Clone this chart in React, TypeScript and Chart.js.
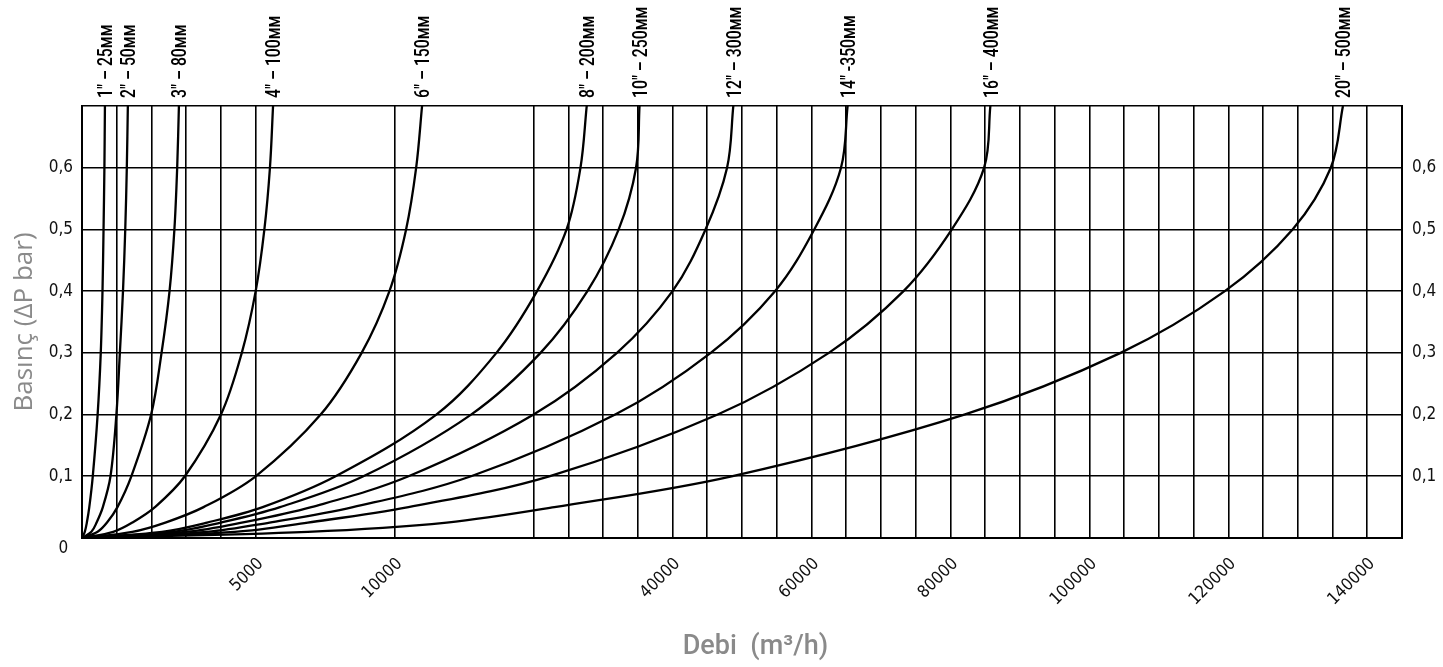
import React, { useEffect, useRef } from 'react';
import { Chart, LinearScale, registerables } from 'chart.js';

Chart.register(...registerables);

// ---- Data: pressure-drop levels (bar) and the flow (m³/h) of each pipe at those levels ----
const PIPE_LABELS = [
  '1" – 25мм', '2" – 50мм', '3" – 80мм', '4" – 100мм', '6" – 150мм',
  '8" – 200мм', '10" – 250мм', '12" – 300мм', '14" -350мм', '16" – 400мм', '20" – 500мм',
];

const DP_LEVELS = [0, 0.01, 0.025, 0.05, 0.1, 0.2, 0.3, 0.4, 0.5, 0.6, 0.7];

const FLOW_1 = [0, 80, 140, 210, 310, 450, 540, 590, 620, 645, 660];
const FLOW_2 = [0, 270, 420, 600, 820, 990, 1090, 1180, 1245, 1290, 1320];
const FLOW_3 = [0, 450, 720, 1020, 1420, 1990, 2290, 2520, 2660, 2740, 2790];
const FLOW_4 = [0, 900, 1450, 2100, 2960, 4000, 4600, 5000, 5313, 5513, 5625];
const FLOW_6 = [0, 1450, 2400, 3500, 5000, 7338, 8813, 9813, 10825, 11550, 11975];
const FLOW_8 = [0, 2300, 3600, 5250, 7875, 13000, 17325, 20500, 24750, 26750, 27650];
const FLOW_10 = [0, 2600, 4000, 5875, 8875, 15500, 21000, 27750, 32250, 34750, 35250];
const FLOW_12 = [0, 3000, 4600, 7000, 11000, 20000, 32000, 40000, 44750, 47850, 48750];
const FLOW_14 = [0, 3600, 5500, 8500, 15500, 31750, 45500, 54750, 60400, 64250, 65200];
const FLOW_16 = [0, 4400, 6875, 11000, 22250, 46500, 62500, 73250, 80200, 84850, 85750];
const FLOW_20 = [0, 6875, 13750, 23000, 48500, 82000, 104500, 119500, 129250, 134750, 136500];

const SERIES_FLOWS = [FLOW_1, FLOW_2, FLOW_3, FLOW_4, FLOW_6, FLOW_8, FLOW_10, FLOW_12, FLOW_14, FLOW_16, FLOW_20];

// ---- Axis definition (piecewise flow axis as printed) ----
const AXIS_BREAK_FLOWS = [0, 5000, 10000, 20000, 145000];
const AXIS_BREAK_COLS = [0, 5, 9, 13, 38];
const GRID_FLOWS = [
  0, 1000, 2000, 3000, 4000, 5000, 10000, 20000, 25000, 30000, 35000, 40000, 45000,
  50000, 55000, 60000, 65000, 70000, 75000, 80000, 85000, 90000, 95000, 100000,
  105000, 110000, 115000, 120000, 125000, 130000, 135000, 140000, 145000,
];
const LABELED_FLOWS = [5000, 10000, 40000, 60000, 80000, 100000, 120000, 140000];
const DP_TICKS = [0, 0.1, 0.2, 0.3, 0.4, 0.5, 0.6, 0.7];

function flowToFraction(v: number): number {
  const F = AXIS_BREAK_FLOWS;
  const C = AXIS_BREAK_COLS;
  const total = C[C.length - 1];
  for (let i = 1; i < F.length; i++) {
    if (v <= F[i] || i === F.length - 1) {
      return (C[i - 1] + ((v - F[i - 1]) * (C[i] - C[i - 1])) / (F[i] - F[i - 1])) / total;
    }
  }
  return 0;
}
function fractionToFlow(f: number): number {
  const F = AXIS_BREAK_FLOWS;
  const C = AXIS_BREAK_COLS;
  const c = f * C[C.length - 1];
  for (let i = 1; i < C.length; i++) {
    if (c <= C[i] || i === C.length - 1) {
      return F[i - 1] + ((c - C[i - 1]) * (F[i] - F[i - 1])) / (C[i] - C[i - 1]);
    }
  }
  return 0;
}

class BrokenFlowScale extends LinearScale {
  static id = 'brokenFlow';
  static defaults = LinearScale.defaults;
  buildTicks() {
    // @ts-ignore
    this._start = this.min; this._end = this.max;
    return GRID_FLOWS.map((v) => ({ value: v }));
  }
  getPixelForValue(value: number) {
    return this.getPixelForDecimal(flowToFraction(value));
  }
  getValueForPixel(pixel: number) {
    return fractionToFlow(this.getDecimalForPixel(pixel));
  }
}
Chart.register(BrokenFlowScale as any);

const TICK_FONT = "'DejaVu Sans Condensed', 'Liberation Sans Narrow', Roboto, sans-serif";

const topLabelsPlugin = {
  id: 'topLabels',
  afterDatasetsDraw(chart: any) {
    const ctx = chart.ctx;
    const top = chart.chartArea.top;
    chart.data.datasets.forEach((ds: any, i: number) => {
      const meta = chart.getDatasetMeta(i);
      const pt = meta.data[meta.data.length - 1];
      if (!pt) return;
      ctx.save();
      ctx.translate(pt.x + 2, top - 8);
      ctx.rotate(-Math.PI / 2);
      ctx.scale(0.75, 1);
      ctx.font = "500 21px Roboto, 'DejaVu Sans', sans-serif";
      ctx.fillStyle = '#000';
      ctx.textAlign = 'left';
      ctx.textBaseline = 'middle';
      ctx.fillText(ds.label, 0, 0);
      ctx.restore();
    });
  },
};

function fmtDp(v: number, showZero: boolean): string | string[] {
  if (Math.abs(v - 0.7) < 1e-6) return '';
  if (Math.abs(v) < 1e-6) return showZero ? ['', '0 '] : '';
  return v.toFixed(1).replace('.', ',');
}

export default function App() {
  const canvasRef = useRef<HTMLCanvasElement | null>(null);

  useEffect(() => {
    if (!canvasRef.current) return;
    const datasets = SERIES_FLOWS.map((flows, i) => ({
      label: PIPE_LABELS[i],
      data: flows.map((x, j) => ({ x, y: DP_LEVELS[j] })),
      borderColor: '#000',
      borderWidth: 2.3,
      pointRadius: 0,
      fill: false,
      tension: 0.35,
    }));

    const chart = new Chart(canvasRef.current, {
      type: 'line',
      data: { datasets },
      plugins: [topLabelsPlugin],
      options: {
        responsive: false,
        animation: false,
        layout: { padding: { top: 106, left: 0, right: 0, bottom: 0 } },
        plugins: { legend: { display: false }, tooltip: { enabled: false } },
        scales: {
          x: {
            type: 'brokenFlow' as any,
            min: 0,
            max: 145000,
            afterFit: (s: any) => { s.height = 129; },
            grid: { color: '#000', lineWidth: 1.6, drawTicks: false },
            border: { color: '#000', width: 2 },
            ticks: {
              autoSkip: false,
              minRotation: 45,
              maxRotation: 45,
              padding: 16,
              labelOffset: 5,
              color: '#111',
              font: { family: TICK_FONT, size: 17 },
              callback: (v: any) => (LABELED_FLOWS.includes(Number(v)) ? String(v) : ''),
            },
            title: {
              display: true,
              text: '    Debi  (m³/h)',
              color: '#8a8a8a',
              font: { family: "Roboto, 'DejaVu Sans', sans-serif", size: 27, weight: 500 },
              padding: { top: 0, bottom: 4 },
            },
          } as any,
          y: {
            type: 'linear',
            position: 'left',
            min: 0,
            max: 0.7,
            afterBuildTicks: (s: any) => { s.ticks = DP_TICKS.map((v) => ({ value: v })); },
            afterFit: (s: any) => { s.width = 82; },
            grid: { color: '#000', lineWidth: 1.6, drawTicks: false },
            border: { color: '#000', width: 2 },
            ticks: {
              padding: 9,
              color: '#111',
              font: { family: TICK_FONT, size: 17 },
              callback: (v: any) => fmtDp(Number(v), true),
            },
            title: {
              display: true,
              text: 'Basınç (ΔP bar)',
              color: '#8a8a8a',
              font: { family: "'Open Sans', sans-serif", size: 26 },
              padding: { top: 9, bottom: 0 },
            },
          },
          y2: {
            type: 'linear',
            position: 'right',
            min: 0,
            max: 0.7,
            afterBuildTicks: (s: any) => { s.ticks = DP_TICKS.map((v) => ({ value: v })); },
            afterFit: (s: any) => { s.width = 41; },
            grid: { display: false, drawTicks: false },
            border: { color: '#000', width: 2 },
            ticks: {
              padding: 10,
              color: '#111',
              font: { family: TICK_FONT, size: 17 },
              callback: (v: any) => fmtDp(Number(v), false),
            },
          },
        },
      } as any,
    });
    return () => chart.destroy();
  }, []);

  return (
    <div style={{ position: 'fixed', left: 0, top: 0, width: 1443, height: 667, background: '#fff' }}>
      <canvas ref={canvasRef} width={1443} height={667} style={{ display: 'block' }} />
    </div>
  );
}
